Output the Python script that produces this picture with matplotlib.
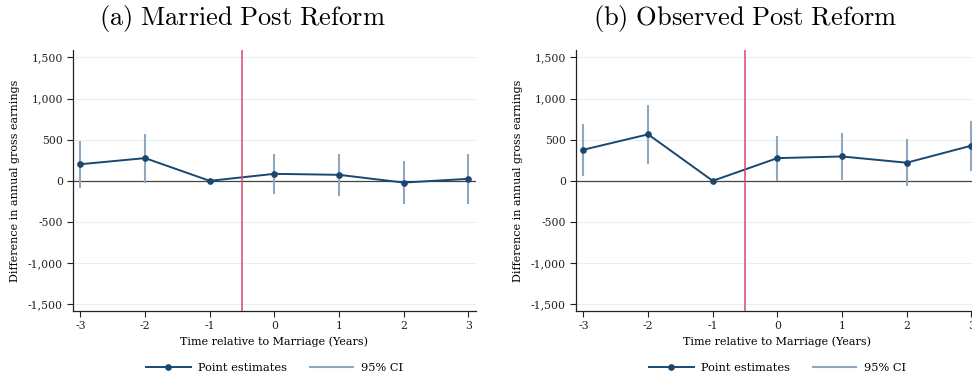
import numpy as np
import matplotlib
matplotlib.use("Agg")
import matplotlib.pyplot as plt
from matplotlib.ticker import FuncFormatter

plt.rcParams['mathtext.fontset'] = 'cm'
plt.rcParams['font.family'] = ['DejaVu Serif']
plt.rcParams['axes.unicode_minus'] = False

# event time
periods = [-3, -2, -1, 0, 1, 2, 3]

# (a) married post reform
est_a = [202, 276, 0, 85, 73, -21, 24]
lo_a = [-90, -29, 0, -159, -179, -281, -281]
hi_a = [488, 573, 0, 329, 325, 244, 329]

# (b) observed post reform
est_b = [378, 565, 0, 276, 296, 220, 427]
lo_b = [56, 203, 0, 4, 16, -66, 117]
hi_b = [695, 922, 0, 540, 577, 504, 732]

titles = [r"$\mathrm{(a)\ Married\ Post\ Reform}$",
          r"$\mathrm{(b)\ Observed\ Post\ Reform}$"]
yticks = [-1500, -1000, -500, 0, 500, 1000, 1500]

navy = "#1a476f"
ci_col = "#8fa8c0"
red = "#d9486a"
grid_col = "#e7eff1"

fig = plt.figure(figsize=(9.72, 3.8), dpi=100)
axes_pos = [[0.0748, 0.1816, 0.4149, 0.6868],
            [0.5923, 0.1816, 0.4149, 0.6868]]
title_x = [0.249, 0.767]

def fmt(v, pos):
    return "{:,}".format(int(v))

panels = [(est_a, lo_a, hi_a), (est_b, lo_b, hi_b)]
for k, (est, lo, hi) in enumerate(panels):
    ax = fig.add_axes(axes_pos[k])
    for y in yticks:
        if y != 0:
            ax.axhline(y, color=grid_col, lw=0.8, zorder=0)
    ax.axhline(0, color="#444444", lw=0.9, zorder=1)
    ax.vlines(periods, lo, hi, color=ci_col, lw=1.5, zorder=2, label="95% CI")
    ax.plot(periods, est, color=navy, lw=1.4, marker="o", ms=3.8, zorder=3,
            label="Point estimates")
    ax.axvline(-0.5, color=red, lw=1.1, zorder=4)

    ax.set_xlim(-3.12, 3.12)
    ax.set_ylim(-1582, 1590)
    ax.set_xticks(periods)
    ax.set_yticks(yticks)
    ax.yaxis.set_major_formatter(FuncFormatter(fmt))
    ax.tick_params(labelsize=7.8, length=4, width=0.8, colors="#222222", pad=3)
    for s in ["top", "right"]:
        ax.spines[s].set_visible(False)
    for s in ["left", "bottom"]:
        ax.spines[s].set_linewidth(0.9)
        ax.spines[s].set_color("#222222")
    ax.set_xlabel("Time relative to Marriage (Years)", fontsize=8, labelpad=4)
    ax.set_ylabel("Difference in annual gross earnings", fontsize=8, labelpad=6)

    h, l = ax.get_legend_handles_labels()
    ax.legend([h[1], h[0]], [l[1], l[0]], loc="center",
              bbox_to_anchor=(0.5, -0.217), ncol=2, frameon=False,
              fontsize=8.2, handlelength=4.0, handletextpad=0.6,
              columnspacing=1.9)

    fig.text(title_x[k], 0.952, titles[k], ha="center", va="center",
             fontsize=19)

plt.savefig("out.png", dpi=100)
